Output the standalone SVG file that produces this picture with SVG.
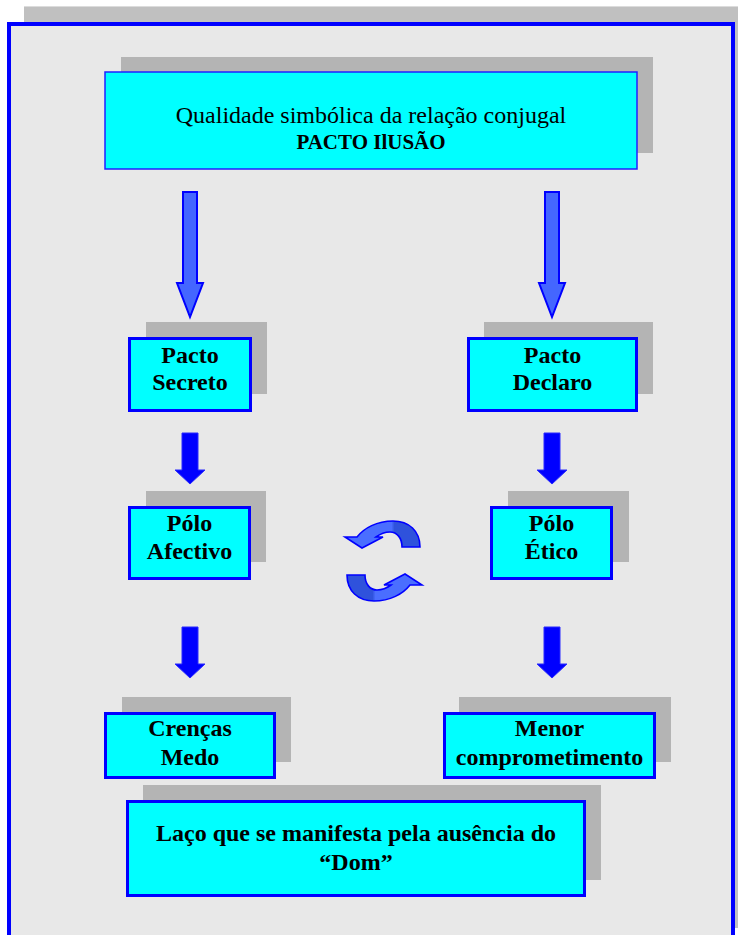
<svg xmlns="http://www.w3.org/2000/svg" width="738" height="935" viewBox="0 0 738 935">
  <defs>
    <style>
      .shadow { fill: #b4b4b4; }
      .box { fill: #00ffff; stroke: #0000ff; stroke-width: 3; }
      .box-thin { fill: #00ffff; stroke: #2020ff; stroke-width: 1.5; }
      .t { font-family: "Liberation Serif", "Times New Roman", serif; fill: #000; text-anchor: middle; }
      .b { font-weight: bold; font-size: 24px; }
      .big-arrow { fill: #4466ff; stroke: #0000ff; stroke-width: 2; stroke-linejoin: miter; }
      .small-arrow { fill: #0000ff; stroke: #2a2aff; stroke-width: 1; }
      .cycle { fill: url(#cycleShade); stroke: #0000ff; stroke-width: 1.6; stroke-linejoin: miter; }
    </style>
    <linearGradient id="cycleShade" x1="0" y1="0" x2="1" y2="0">
      <stop offset="0" stop-color="#4a6eff"/>
      <stop offset="0.62" stop-color="#4a6eff"/>
      <stop offset="0.66" stop-color="#2f52dc"/>
      <stop offset="1" stop-color="#2f52dc"/>
    </linearGradient>
    <path id="bigArrow" d="M-7 0 H7 V91 H13 L0 125 L-13 91 H-7 Z"/>
    <path id="smallArrow" d="M-8 0 H8 V37 H15 L0 51 L-15 37 H-8 Z"/>
    <path id="cycleArrow" d="M420 547 C420 531 409 521 393 521 C377 521 364 528 357 537 L345 537 L362 548 L383 537 L376 537 C380 534 385 532 390 532 C397 532 402 538 402 547 Z"/>
  </defs>

  <!-- page frame -->
  <g id="frame">
    <rect x="24" y="7" width="720" height="921" fill="#c0c0c0"/>
    <line x1="24" y1="6.5" x2="738" y2="6.5" stroke="#dcdcdc" stroke-width="1"/>
    <rect x="9" y="24" width="724" height="930" fill="#e8e8e8" stroke="#0000ff" stroke-width="4"/>
  </g>

  <g id="node-qualidade">
    <rect class="shadow" x="121" y="57" width="532" height="96"/>
    <rect class="box-thin" x="105" y="72" width="532" height="97"/>
    <text class="t" x="371" y="123" font-size="24">Qualidade simbólica da relação conjugal</text>
    <text class="t" x="371" y="149" font-size="21" font-weight="bold">PACTO IlUSÃO</text>
  </g>

  <g id="node-pacto-secreto">
    <rect class="shadow" x="146" y="322" width="121" height="72"/>
    <rect class="box" x="129.5" y="338.5" width="121" height="72"/>
    <text class="t b" x="190" y="363">Pacto</text>
    <text class="t b" x="190" y="390">Secreto</text>
  </g>

  <g id="node-pacto-declaro">
    <rect class="shadow" x="484" y="322" width="169" height="72"/>
    <rect class="box" x="468.5" y="338.5" width="168" height="72"/>
    <text class="t b" x="552.5" y="363">Pacto</text>
    <text class="t b" x="552.5" y="390">Declaro</text>
  </g>

  <g id="node-polo-afectivo">
    <rect class="shadow" x="146" y="491" width="120" height="71"/>
    <rect class="box" x="129.5" y="507.5" width="120" height="71"/>
    <text class="t b" x="189.5" y="531">Pólo</text>
    <text class="t b" x="189.5" y="559">Afectivo</text>
  </g>

  <g id="node-polo-etico">
    <rect class="shadow" x="508" y="491" width="121" height="71"/>
    <rect class="box" x="491.5" y="507.5" width="120" height="71"/>
    <text class="t b" x="551.5" y="531">Pólo</text>
    <text class="t b" x="551.5" y="559">Ético</text>
  </g>

  <g id="node-crencas-medo">
    <rect class="shadow" x="122" y="697" width="169" height="65"/>
    <rect class="box" x="105.5" y="713.5" width="169" height="64"/>
    <text class="t b" x="190" y="736">Crenças</text>
    <text class="t b" x="190" y="765">Medo</text>
  </g>

  <g id="node-menor-comprometimento">
    <rect class="shadow" x="459" y="697" width="212" height="65"/>
    <rect class="box" x="444.5" y="713.5" width="210" height="64"/>
    <text class="t b" x="549.5" y="736">Menor</text>
    <text class="t b" x="549.5" y="765">comprometimento</text>
  </g>

  <g id="node-laco">
    <rect class="shadow" x="143" y="785" width="458" height="95"/>
    <rect class="box" x="127.5" y="801.5" width="457" height="94"/>
    <text class="t b" x="356" y="841">Laço que se manifesta pela ausência do</text>
    <text class="t b" x="356" y="870">“Dom”</text>
  </g>

  <!-- connectors -->
  <g id="connectors">
    <use href="#bigArrow" class="big-arrow" transform="translate(190 192)"/>
    <use href="#bigArrow" class="big-arrow" transform="translate(552 192)"/>
    <use href="#smallArrow" class="small-arrow" transform="translate(190 433)"/>
    <use href="#smallArrow" class="small-arrow" transform="translate(552 433)"/>
    <use href="#smallArrow" class="small-arrow" transform="translate(190 627)"/>
    <use href="#smallArrow" class="small-arrow" transform="translate(552 627)"/>
    <use href="#cycleArrow" class="cycle"/>
    <use href="#cycleArrow" class="cycle" transform="rotate(180 383.5 561)"/>
  </g>
</svg>
